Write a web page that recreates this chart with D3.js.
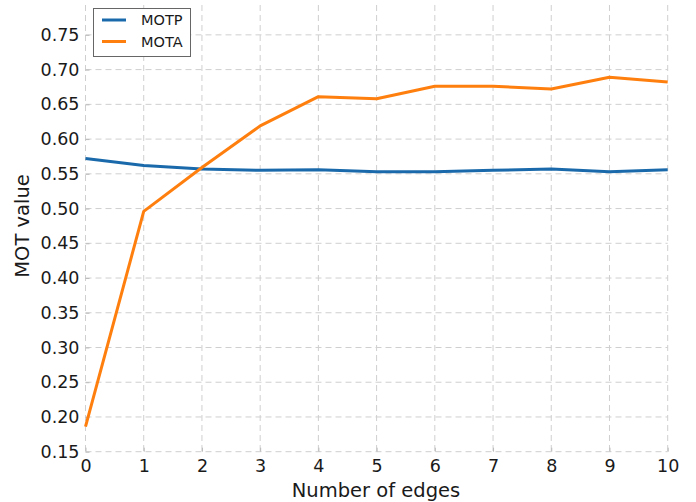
<!DOCTYPE html>
<html>
<head>
<meta charset="utf-8">
<script src="https://cdn.jsdelivr.net/npm/d3@7"></script>
<style>
  body { margin: 0; background: #fff; }
  svg { font-family: "DejaVu Sans", sans-serif; }
</style>
</head>
<body>
<svg id="chart" width="696" height="502"></svg>
<script>
// Data -------------------------------------
var edges = [0, 1, 2, 3, 4, 5, 6, 7, 8, 9, 10];
var motp = [0.572, 0.562, 0.557, 0.555, 0.556, 0.553, 0.553, 0.555, 0.557, 0.553, 0.556];
var mota = [0.186, 0.496, 0.559, 0.619, 0.661, 0.658, 0.676, 0.676, 0.672, 0.689, 0.682];
var yTicks = [0.15, 0.20, 0.25, 0.30, 0.35, 0.40, 0.45, 0.50, 0.55, 0.60, 0.65, 0.70, 0.75];
var seriesNames = ['MOTP', 'MOTA'];
var seriesColors = ['#1a6aab', '#ff7f0e'];

// Scales -------------------------------------
var plotLeft = 85.5, plotRight = 667.7, plotTop = 5, plotBottom = 451.7;
var x = d3.scaleLinear().domain([0, 10]).range([plotLeft, plotRight]);
var y = d3.scaleLinear().domain([0.15, 0.793]).range([plotBottom, plotTop]);

var svg = d3.select('#chart');

// Grid -------------------------------------
var grid = svg.append('g')
  .attr('stroke', '#cfcfcf')
  .attr('stroke-width', 1)
  .attr('stroke-dasharray', '6,4');

grid.selectAll('line.v')
  .data(edges)
  .enter()
  .append('line')
  .attr('x1', function(d) { return x(d); })
  .attr('x2', function(d) { return x(d); })
  .attr('y1', plotTop)
  .attr('y2', plotBottom);

grid.selectAll('line.h')
  .data(yTicks)
  .enter()
  .append('line')
  .attr('x1', plotLeft)
  .attr('x2', plotRight)
  .attr('y1', function(d) { return y(d); })
  .attr('y2', function(d) { return y(d); });

// Axes -------------------------------------
var xAxis = svg.append('g')
  .attr('transform', 'translate(0,' + plotBottom + ')')
  .call(d3.axisBottom(x).tickValues(edges).tickFormat(d3.format('d')).tickSize(4).tickPadding(5));

var yAxis = svg.append('g')
  .attr('transform', 'translate(' + plotLeft + ',0)')
  .call(d3.axisLeft(y).tickValues(yTicks).tickFormat(d3.format('.2f')).tickSize(-4).tickPadding(6));

[xAxis, yAxis].forEach(function(a) {
  a.select('.domain').remove();
  a.selectAll('.tick line').attr('stroke', '#bbbbbb');
  a.selectAll('.tick text')
    .attr('fill', '#1a1a1a')
    .style('font-size', '17.5px')
    .style('font-family', '"DejaVu Sans", sans-serif');
});
xAxis.selectAll('.tick line').attr('y2', -4);
xAxis.selectAll('.tick text').attr('y', 8);

// Axis labels
svg.append('text')
  .attr('x', 376)
  .attr('y', 497)
  .attr('text-anchor', 'middle')
  .attr('fill', '#1a1a1a')
  .style('font-size', '19.5px')
  .text('Number of edges');

svg.append('text')
  .attr('transform', 'translate(29,226) rotate(-90)')
  .attr('text-anchor', 'middle')
  .attr('fill', '#1a1a1a')
  .style('font-size', '19.5px')
  .text('MOT value');

// Lines -------------------------------------
var series = [motp, mota];
var line = d3.line()
  .x(function(d, i) { return x(edges[i]); })
  .y(function(d) { return y(d); });

svg.selectAll('path.series')
  .data(series)
  .enter()
  .append('path')
  .attr('class', 'series')
  .attr('d', line)
  .attr('fill', 'none')
  .attr('stroke', function(d, i) { return seriesColors[i]; })
  .attr('stroke-width', 3)
  .attr('stroke-linejoin', 'round');

// Legend -------------------------------------
var legend = svg.append('g');
legend.append('rect')
  .attr('x', 93.5)
  .attr('y', 8.5)
  .attr('width', 97)
  .attr('height', 48)
  .attr('fill', '#fff')
  .attr('stroke', '#666')
  .attr('stroke-width', 1);

var items = legend.selectAll('g.item')
  .data(seriesNames)
  .enter()
  .append('g')
  .attr('transform', function(d, i) { return 'translate(0,' + (20 + i * 21.5) + ')'; });

items.append('line')
  .attr('x1', 102)
  .attr('x2', 126)
  .attr('stroke', function(d, i) { return seriesColors[i]; })
  .attr('stroke-width', 3);

items.append('text')
  .attr('x', 141)
  .attr('dy', '0.36em')
  .attr('fill', '#1a1a1a')
  .style('font-size', '14.5px')
  .text(function(d) { return d; });
</script>
</body>
</html>
